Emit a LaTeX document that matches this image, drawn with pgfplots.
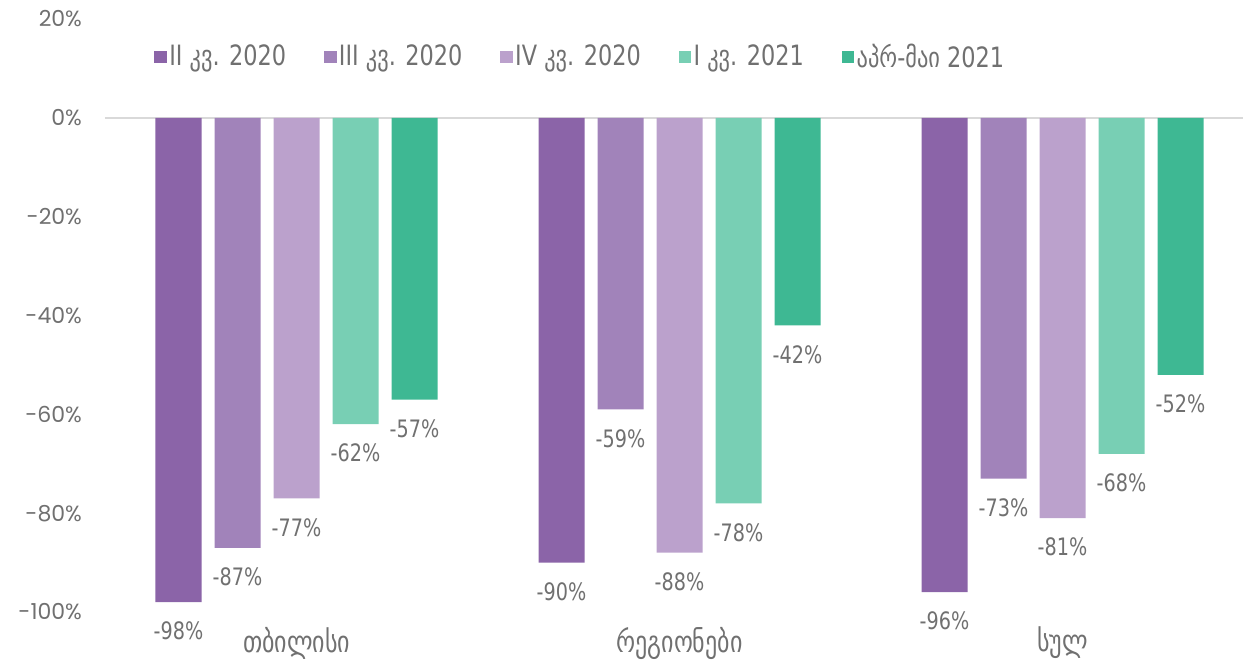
\documentclass[border=0pt]{standalone}
\usepackage{fontspec}
\usepackage{pgfplots}
\pgfplotsset{compat=1.18}
\setmainfont{DejaVu Sans}[FakeStretch=0.8]
\newfontfamily\tickfont{Poppins}
\newfontfamily\labfont{DejaVu Sans}[FakeStretch=0.8]
\definecolor{c1}{HTML}{8B64A8}
\definecolor{c2}{HTML}{A183BA}
\definecolor{c3}{HTML}{BBA1CC}
\definecolor{c4}{HTML}{78CFB4}
\definecolor{c5}{HTML}{3EB893}
\definecolor{txt}{HTML}{707070}
\definecolor{gridc}{HTML}{D9D9D9}
\begin{document}
\begin{tikzpicture}
\begin{axis}[
  scale only axis, width=574.5pt, height=296.5pt,
  xmin=-0.5, xmax=2.5, ymin=-100, ymax=20,
  ybar=6.5pt, bar width=23pt,
  axis line style={draw=none},
  major tick length=0pt,
  /pgf/number format/assume math mode=true,
  xtick={0,1,2},
  xticklabels={თბილისი, რეგიონები, სულ},
  xticklabel style={font=\labfont\fontsize{15}{16}\selectfont, text=txt, yshift=-4pt},
  ytick={-100,-80,-60,-40,-20,0,20},
  yticklabels={-100\%,-80\%,-60\%,-40\%,-20\%,0\%,20\%},
  yticklabel style={font=\tickfont\fontsize{11}{12}\selectfont, text=txt, xshift=-8pt},
  extra y ticks={0},
  extra y tick labels={},
  extra y tick style={grid=major, major grid style={draw=gridc, line width=1.2pt}},
  nodes near coords={\pgfmathprintnumber{\pgfplotspointmeta}\%},
  every node near coord/.append style={font=\labfont\fontsize{12}{13}\selectfont, text=txt, anchor=center, yshift=-14.5pt},
  legend columns=5,
  legend style={at={(0.0375,0.936)}, anchor=west, draw=none, fill=none,
    font=\labfont\fontsize{14}{15}\selectfont, text=txt,
    /tikz/every even column/.append style={column sep=17pt},
    /tikz/every odd column/.append style={column sep=-0.8pt}},
  legend image code/.code={\fill[#1] (0pt,-3.2pt) rectangle (6.2pt,3.2pt);},
  clip=false,
]
\addplot[fill=c1, draw=none] coordinates {(0,-98) (1,-90) (2,-96)};
\addplot[fill=c2, draw=none] coordinates {(0,-87) (1,-59) (2,-73)};
\addplot[fill=c3, draw=none] coordinates {(0,-77) (1,-88) (2,-81)};
\addplot[fill=c4, draw=none] coordinates {(0,-62) (1,-78) (2,-68)};
\addplot[fill=c5, draw=none] coordinates {(0,-57) (1,-42) (2,-52)};
\legend{II კვ. 2020, III კვ. 2020, IV კვ. 2020, I კვ. 2021, აპრ-მაი 2021}
\end{axis}
\pgfresetboundingbox
\path[use as bounding box] ([xshift=-52.5pt,yshift=-26pt]current axis.south west) rectangle ([xshift=-5.5pt,yshift=9.5pt]current axis.north east);
\end{tikzpicture}
\end{document}
